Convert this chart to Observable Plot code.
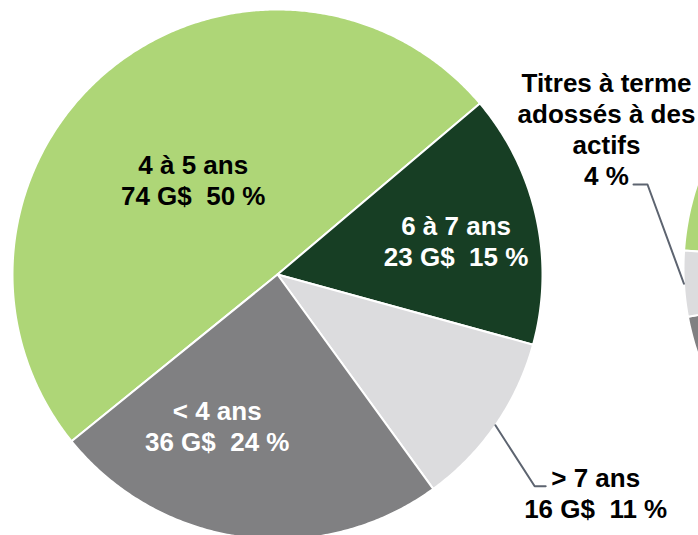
<!DOCTYPE html>
<html>
<head>
<meta charset="utf-8">
<script src="https://cdn.jsdelivr.net/npm/d3@7"></script>
<script src="https://cdn.jsdelivr.net/npm/@observablehq/plot@0.6"></script>
<style>
  html, body { margin: 0; padding: 0; background: #fff; overflow: hidden; }
  #chart svg { display: block; overflow: hidden; }
</style>
</head>
<body>
<div id="chart"></div>
<script>
// ---- Data: pie 1 (by maturity) ----
const maturities = ["4 à 5 ans", "6 à 7 ans", "> 7 ans", "< 4 ans"];
const amounts = [74, 23, 16, 36];          // G$
const percents = [50, 15, 11, 24];         // %

// ---- Data: pie 2 (almost entirely outside the frame; only the 4 % slice is readable,
// the two other shares are estimates of the hidden part) ----
const assetTypes = ["Autres titres (A)", "Autres titres (B)", "Titres à terme adossés à des actifs"];
const assetShares = [62, 34, 4];           // %

// ---- Styles / layout ----
const W = 698, H = 535;
const R = 265, CX = 277, CY = 274;               // pie 1 centre & radius (px)
const pie2C = [948, 268];                        // pie 2 centre (px)
const pie1Start = -129, pie2Start = -86.1;       // degrees, clockwise from 12 o'clock
const sliceColors = {
  "4 à 5 ans": "#aed677", "6 à 7 ans": "#173e24", "> 7 ans": "#dcdcde", "< 4 ans": "#808082",
  "Autres titres (A)": "#aed677", "Autres titres (B)": "#808082",
  "Titres à terme adossés à des actifs": "#dcdcde"
};
const darkSlices = new Set(["6 à 7 ans", "< 4 ans"]);
const labelLayout = {               // angular nudge (deg) and radial position (in radii)
  "4 à 5 ans": {dA: -1.9, r: 0.48},
  "6 à 7 ans": {dA: 1.6, r: 0.686},
  "< 4 ans": {dA: 14.2, r: 0.615},
  "> 7 ans": {dA: -0.3, r: 1.455, leader: {elbow: [-61, 6], end: [-50, 6]}}
};
const titresLayout = {offset: [-342, 140], leader: {elbow: [41, -56], end: [27, -56]}};
const FONT = "'Liberation Sans', Arial, Helvetica, sans-serif";
const leaderColor = "#5d6470";

// units: 1 = one radius
const px = v => v / R;
const xDomain = [-CX / R, (W - CX) / R];
const yDomain = [-(H - CY) / R, CY / R];
const c1 = [0, 0];
const c2 = [px(pie2C[0] - CX), px(CY - pie2C[1])];
const rad = d => d * Math.PI / 180;
const polar = (c, angleDeg, r) => [c[0] + r * Math.sin(rad(angleDeg)), c[1] + r * Math.cos(rad(angleDeg))];

function buildPie(names, values, startDeg, c) {
  const s = rad(startDeg);
  const arcs = d3.pie().sort(null).startAngle(s).endAngle(s + 2 * Math.PI)(values);
  const pts = [];
  arcs.forEach((a, i) => {
    const key = names[i];
    pts.push({key, x: c[0], y: c[1]});
    const n = Math.max(2, Math.ceil((a.endAngle - a.startAngle) / (Math.PI / 360)));
    for (let k = 0; k <= n; k++) {
      const t = a.startAngle + (a.endAngle - a.startAngle) * k / n;
      pts.push({key, x: c[0] + Math.sin(t), y: c[1] + Math.cos(t)});
    }
  });
  const mids = arcs.map((a, i) => ({key: names[i], mid: (a.startAngle + a.endAngle) / 2 * 180 / Math.PI}));
  return {pts, mids};
}

const pie1 = buildPie(maturities, amounts, pie1Start, c1);
const pie2 = buildPie(assetTypes, assetShares, pie2Start, c2);

// labels pie 1
const labels = pie1.mids.map(({key, mid}, i) => {
  const L = labelLayout[key];
  const [x, y] = polar(c1, mid + L.dA, L.r);
  return {key, x, y, mid, text: `${key}\n${amounts[i]} G$\u00a0 ${percents[i]}\u00a0%`, dark: darkSlices.has(key), leader: L.leader};
});

// leader lines
const leaders = [];
labels.filter(d => d.leader).forEach(d => {
  const p0 = polar(c1, d.mid, 1.0);
  leaders.push({id: d.key, x: p0[0], y: p0[1]});
  leaders.push({id: d.key, x: d.x + px(d.leader.elbow[0]), y: d.y + px(d.leader.elbow[1])});
  leaders.push({id: d.key, x: d.x + px(d.leader.end[0]), y: d.y + px(d.leader.end[1])});
});

// pie 2 label (4 % slice)
const titresIdx = 2;
const titresMid = pie2.mids[titresIdx].mid;
const titresLabel = {
  x: c2[0] + px(titresLayout.offset[0]),
  y: c2[1] + px(titresLayout.offset[1]),
  text: `Titres à terme\nadossés à des\nactifs\n${assetShares[titresIdx]}\u00a0%`
};
{
  const p0 = polar(c2, titresMid, 1.0);
  leaders.push({id: "titres", x: p0[0], y: p0[1]});
  leaders.push({id: "titres", x: titresLabel.x + px(titresLayout.leader.elbow[0]), y: titresLabel.y + px(titresLayout.leader.elbow[1])});
  leaders.push({id: "titres", x: titresLabel.x + px(titresLayout.leader.end[0]), y: titresLabel.y + px(titresLayout.leader.end[1])});
}

const allKeys = [...maturities, ...assetTypes];
const textOpts = {x: "x", y: "y", text: "text", fontSize: 26, fontWeight: "bold", fontFamily: FONT, lineHeight: 1.19, textAnchor: "middle"};

const chart = Plot.plot({
  width: W, height: H, margin: 0,
  x: {domain: xDomain, axis: null},
  y: {domain: yDomain, axis: null},
  color: {domain: allKeys, range: allKeys.map(k => sliceColors[k])},
  style: {background: "white", fontFamily: FONT},
  marks: [
    Plot.line([...pie1.pts, ...pie2.pts], {x: "x", y: "y", z: "key", fill: "key", stroke: "white", strokeWidth: 2, strokeLinejoin: "round", curve: "linear-closed"}),
    Plot.line(leaders, {x: "x", y: "y", z: "id", stroke: leaderColor, strokeWidth: 2, curve: "linear"}),
    Plot.text(labels.filter(d => d.dark), {...textOpts, fill: "white"}),
    Plot.text(labels.filter(d => !d.dark), {...textOpts, fill: "black"}),
    Plot.text([titresLabel], {...textOpts, fill: "black"})
  ]
});
document.getElementById("chart").appendChild(chart);
</script>
</body>
</html>
